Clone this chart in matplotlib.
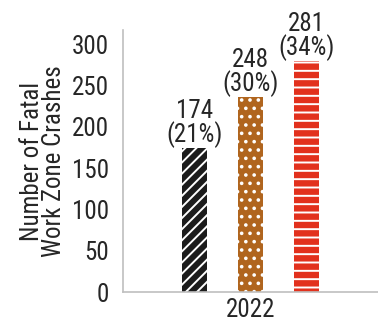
import matplotlib
matplotlib.use("Agg")
import matplotlib.pyplot as plt
from matplotlib.transforms import ScaledTranslation

# ---- data ----
category = ["2022"]
bar_heights = [174, 236, 279]          # heights as drawn in the picture
value_labels = ["174\n(21%)", "248\n(30%)", "281\n(34%)"]
bar_offsets = [-0.22, 0.0, 0.22]
face_colors = ["#1c1c1c", "#B0651E", "#E2311D"]
hatches = ["///", "..", "--"]
yticks = [0, 50, 100, 150, 200, 250, 300]

plt.rcParams["font.family"] = ["Roboto Condensed", "Liberation Sans", "DejaVu Sans"]
plt.rcParams["hatch.linewidth"] = 1.4

FS = 18
text_color = "#262626"
fig = plt.figure(figsize=(3.78, 3.24), dpi=100)
ax = fig.add_axes([123 / 378, 1 - 292 / 324, 1 - 123 / 378, (292 - 30) / 324])

for off, h, fc, ht, lab in zip(bar_offsets, bar_heights, face_colors, hatches, value_labels):
    ax.bar(off, h, width=0.1, color=fc, edgecolor="white", linewidth=0, hatch=ht)
    ax.annotate(lab, (off, h), xytext=(0, 0), textcoords="offset points",
                ha="center", va="bottom", fontsize=FS, color=text_color,
                linespacing=0.92)

ax.set_xlim(-0.5, 0.5)
ax.set_ylim(0, 317)
ax.set_yticks(yticks)
ax.set_xticks([0])
ax.set_xticklabels(category)
for lbl in ax.get_xticklabels():
    lbl.set_transform(lbl.get_transform() + ScaledTranslation(-12 / 100, 0, fig.dpi_scale_trans))

ax.tick_params(axis="both", length=0, labelsize=FS, colors=text_color)
ax.tick_params(axis="y", pad=10)
ax.tick_params(axis="x", pad=4)

ax.set_ylabel("Number of Fatal\nWork Zone Crashes", fontsize=FS, color=text_color,
              linespacing=0.92, labelpad=4)

for s in ["top", "right"]:
    ax.spines[s].set_visible(False)
for s in ["left", "bottom"]:
    ax.spines[s].set_color("#bfbfbf")
    ax.spines[s].set_linewidth(1.2)

fig.savefig("out.png", dpi=100)
